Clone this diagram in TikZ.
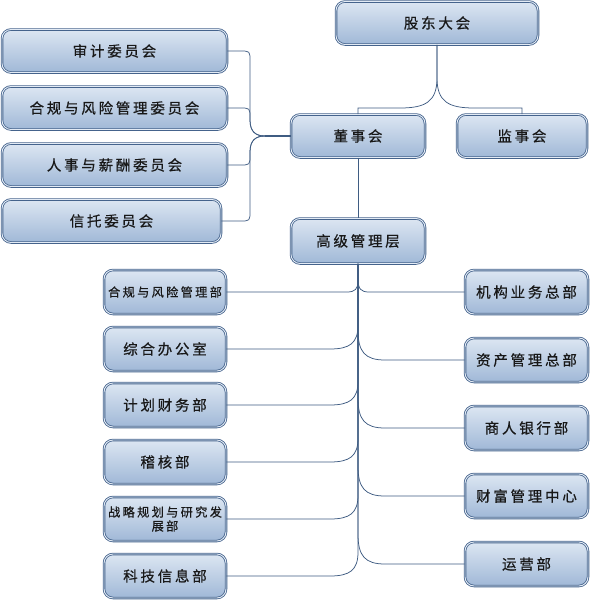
\documentclass[tikz,border=0pt]{standalone}
\usepackage{fontspec}
\newfontfamily\cjk[LetterSpace=19,FakeBold=0.6]{Noto Sans CJK SC}
\definecolor{boxline}{HTML}{45638C}
\definecolor{boxinner}{HTML}{E3EBF5}
\definecolor{boxtop}{HTML}{DCE6F2}
\definecolor{boxbot}{HTML}{A0B8D7}
\definecolor{txt}{HTML}{181818}
\definecolor{linec}{HTML}{3F5C82}
\tikzset{
  box/.style={draw=boxline, double=boxinner, double distance=0.9pt, line width=0.8pt,
    rounded corners=9pt, top color=boxtop, bottom color=boxbot, text=txt, inner sep=0pt,
    font=\cjk\fontsize{14.5}{16}\selectfont, align=center},
  smallbox/.style={box, font=\cjk\fontsize{12.2}{15}\selectfont},
  conn/.style={draw=linec, line width=0.75pt},
  hub/.style={draw=linec, line width=1.8pt},
}
\begin{document}
\begin{tikzpicture}[x=1pt,y=-1pt]
\useasboundingbox (0,0) rectangle (590,605);
% top
\node[box, minimum width=202pt, minimum height=43pt] (gd) at (437,23) {股东大会};
\node[box, minimum width=134pt, minimum height=43pt] (ds) at (358,136) {董事会};
\node[box, minimum width=130pt, minimum height=43pt] (js) at (522,136) {监事会};
\node[box, minimum width=134pt, minimum height=45pt] (gj) at (358,241) {高级管理层};
% committees
\node[box, minimum width=225pt, minimum height=43pt] (c1) at (114.5,51) {审计委员会};
\node[box, minimum width=225pt, minimum height=43pt] (c2) at (114.5,108) {合规与风险管理委员会};
\node[box, minimum width=225pt, minimum height=43pt] (c3) at (114.5,165) {人事与薪酬委员会};
\node[box, minimum width=219pt, minimum height=43pt] (c4) at (111.5,221) {信托委员会};
% left departments
\node[smallbox, minimum width=122pt, minimum height=44pt] (l1) at (165,292) {合规与风险管理部};
\node[box, minimum width=122pt, minimum height=44pt] (l2) at (165,349) {综合办公室};
\node[box, minimum width=122pt, minimum height=44pt] (l3) at (165,405) {计划财务部};
\node[box, minimum width=122pt, minimum height=44pt] (l4) at (165,462) {稽核部};
\node[smallbox, minimum width=122pt, minimum height=44pt, font=\cjk\fontsize{12.2}{14}\selectfont] (l5) at (165,519) {战略规划与研究发\\展部};
\node[box, minimum width=122pt, minimum height=44pt] (l6) at (165,576) {科技信息部};
% right departments
\node[box, minimum width=123pt, minimum height=44pt] (r1) at (526.5,292) {机构业务总部};
\node[box, minimum width=123pt, minimum height=44pt] (r2) at (526.5,360) {资产管理总部};
\node[box, minimum width=123pt, minimum height=44pt] (r3) at (526.5,428) {商人银行部};
\node[box, minimum width=123pt, minimum height=44pt] (r4) at (526.5,496) {财富管理中心};
\node[box, minimum width=123pt, minimum height=44pt] (r5) at (526.5,564) {运营部};

% shareholders to boards
\draw[conn] (gd.south) -- (437,78) .. controls (437,102) and (425,108) .. (400,108) -- (358,108) -- (ds.north);
\draw[conn] (gd.south) -- (437,78) .. controls (437,102) and (449,108) .. (474,108) -- (522,108) -- (js.north);
% board to senior management
\draw[conn] (ds.south) -- (gj.north);
% committees
\coordinate (hubpt) at (265,136);
\draw[conn] (c1.east) -- (240,51) .. controls (250,51) .. (250,61) -- (250,120) .. controls (250,132) and (256,136) .. (hubpt);
\draw[conn] (c2.east) -- (240,108) .. controls (250,108) .. (250,118) -- (250,120) .. controls (250,132) and (256,136) .. (hubpt);
\draw[conn] (c3.east) -- (240,165) .. controls (250,165) .. (250,155) -- (250,152) .. controls (250,140) and (256,136) .. (hubpt);
\draw[conn] (c4.east) -- (240,221) .. controls (250,221) .. (250,211) -- (250,152) .. controls (250,140) and (256,136) .. (hubpt);
\draw[hub] (hubpt) -- (ds.west);
% left departments
\draw[conn] (gj.south) -- (358,281) .. controls (358,289) and (355,292) .. (347,292) -- (l1.east);
\foreach \n/\y in {l2/349,l3/405,l4/462,l5/519,l6/576}{
  \draw[conn] (gj.south) -- (358,\y-24) .. controls (358,\y-6) and (350,\y) .. (330,\y) -- (\n.east);
}
% right departments
\draw[conn] (gj.south) -- (358,279) .. controls (358,289) and (361,292) .. (369,292) -- (r1.west);
\foreach \n/\y in {r2/360,r3/428,r4/496,r5/564}{
  \draw[conn] (gj.south) -- (358,\y-30) .. controls (358,\y-8) and (365,\y) .. (385,\y) -- (\n.west);
}
\end{tikzpicture}
\end{document}
